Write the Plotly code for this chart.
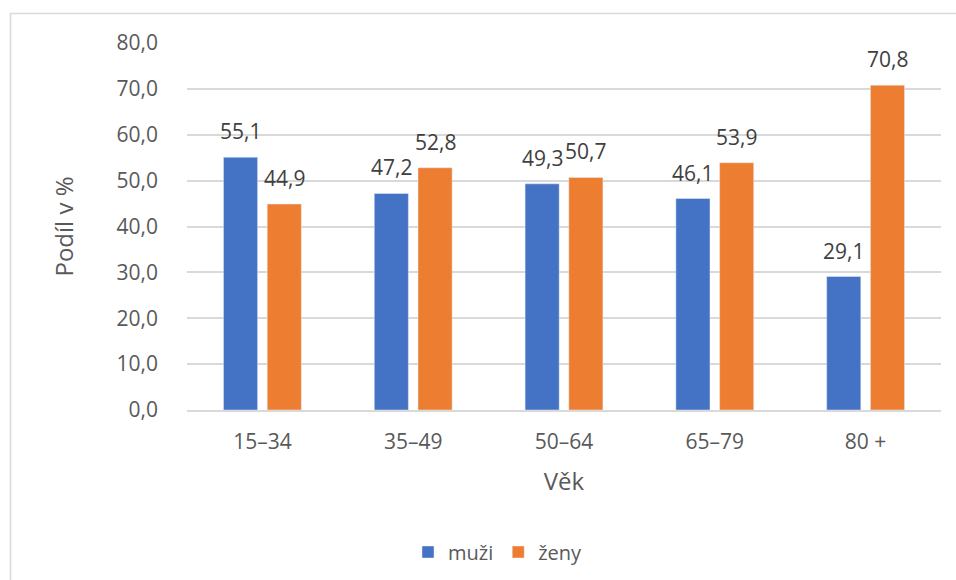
import plotly.graph_objects as go

# Age groups and share of men / women (%)
age_groups = ["15–34", "35–49", "50–64", "65–79", "80 +"]
men = [55.1, 47.2, 49.3, 46.1, 29.1]
women = [44.9, 52.8, 50.7, 53.9, 70.8]

y_ticks = [0, 10, 20, 30, 40, 50, 60, 70, 80]

BLUE = "#4472C4"
ORANGE = "#ED7D31"
TEXT = "#595959"
LABEL = "#404040"
GRID = "#D9D9D9"
FONT = "'Open Sans', sans-serif"

W, H = 956, 580
L, R, T, B = 187, 15, 43, 170
BARGAP = 0.42

pw = W - L - R
ph = H - T - B

fig = go.Figure()
fig.add_trace(go.Bar(name="muži", x=age_groups, y=men, marker_color=BLUE))
fig.add_trace(go.Bar(name="ženy", x=age_groups, y=women, marker_color=ORANGE))


def fmt(v):
    return f"{v:.1f}".replace(".", ",")


# value labels above each bar, shifted to the bar's slot within the group
slot = pw / len(age_groups) * (1 - BARGAP) / 2
annotations = []
for series, shift in ((men, -slot / 2), (women, slot / 2)):
    for cat, v in zip(age_groups, series):
        annotations.append(dict(
            x=cat, y=v, xref="x", yref="y", text=fmt(v), showarrow=False,
            xshift=shift, yshift=26, yanchor="middle", xanchor="center",
            font=dict(family=FONT, size=21, color=LABEL),
        ))

fig.update_layout(
    width=W, height=H,
    margin=dict(l=L, r=R, t=T, b=B, pad=0, autoexpand=False),
    paper_bgcolor="white", plot_bgcolor="white",
    separators=", ",
    barmode="group", bargap=BARGAP, bargroupgap=0.22,
    font=dict(family=FONT, size=21, color=TEXT),
    showlegend=True,
    legend=dict(orientation="h", x=(498 - L) / pw, xanchor="center",
                y=-(552 - T - ph) / ph, yanchor="middle",
                font=dict(size=20, color=TEXT), itemwidth=30, traceorder="normal"),
    xaxis=dict(
        automargin=False,
        showgrid=False, showline=True, linecolor=GRID, linewidth=1.5,
        ticks="", tickfont=dict(size=21, color=TEXT), ticklabelstandoff=12,
        title=dict(text="Věk", font=dict(size=24, color=TEXT), standoff=19),
    ),
    yaxis=dict(
        automargin=False,
        range=[0, 80], tickvals=y_ticks, tickformat=".1f",
        showgrid=True, gridcolor=GRID, gridwidth=1.5,
        zeroline=False, showline=False, ticks="",
        ticklabelstandoff=28,
        tickfont=dict(size=21, color=TEXT),
        title=dict(text="Podíl v %", font=dict(size=24, color=TEXT), standoff=36),
    ),
    annotations=annotations,
    shapes=[
        dict(type="rect", xref="paper", yref="paper",
             x0=(10.5 - L) / pw, x1=(W + 20 - L) / pw,
             y0=-(B + 20) / ph, y1=1 + (T - 13.5) / ph,
             line=dict(color=GRID, width=1.5), layer="below"),
    ],
)

fig.write_html("out.html")
